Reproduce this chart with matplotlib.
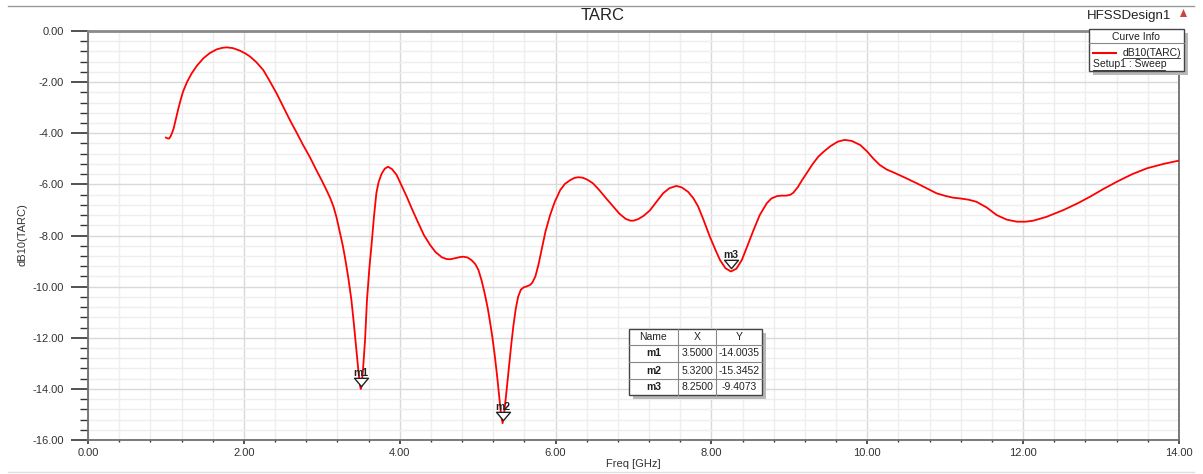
import matplotlib.pyplot as plt
from matplotlib.patches import Rectangle, Polygon
from matplotlib.lines import Line2D
from matplotlib.path import Path
from matplotlib.ticker import MultipleLocator, FormatStrFormatter
from matplotlib.transforms import offset_copy

plt.rcParams['font.family'] = ['Liberation Sans', 'DejaVu Sans']

# TARC sweep (GHz, dB)
freq = [1.00, 1.02, 1.04, 1.06, 1.08, 1.10, 1.13, 1.16, 1.19, 1.22, 1.27, 1.33,
        1.40, 1.48, 1.56, 1.65, 1.72, 1.78, 1.86, 1.95, 2.02, 2.08, 2.16, 2.25,
        2.33, 2.42, 2.50, 2.59, 2.68, 2.76, 2.85, 2.93, 3.00, 3.06, 3.11, 3.15,
        3.19, 3.23, 3.27, 3.30, 3.34, 3.38, 3.41, 3.44, 3.47, 3.49, 3.50, 3.51,
        3.53, 3.555, 3.58, 3.61, 3.64, 3.67, 3.70, 3.73, 3.77, 3.81, 3.85, 3.90,
        3.96, 4.02, 4.09, 4.16, 4.24, 4.31, 4.39, 4.46, 4.54, 4.60, 4.65, 4.72,
        4.78, 4.82, 4.87, 4.92, 4.97, 5.01, 5.05, 5.09, 5.13, 5.16, 5.19, 5.22,
        5.25, 5.28, 5.30, 5.32, 5.34, 5.37, 5.40, 5.43, 5.46, 5.49, 5.52, 5.555,
        5.59, 5.63, 5.67, 5.70, 5.74, 5.78, 5.82, 5.87, 5.93, 5.99, 6.06, 6.12,
        6.19, 6.24, 6.29, 6.35, 6.41, 6.48, 6.56, 6.65, 6.74, 6.82, 6.90, 6.96,
        7.00, 7.06, 7.13, 7.21, 7.29, 7.38, 7.46, 7.55, 7.62, 7.70, 7.77, 7.83,
        7.90, 7.98, 8.05, 8.11, 8.18, 8.25, 8.32, 8.39, 8.46, 8.54, 8.62, 8.71,
        8.77, 8.84, 8.90, 8.96, 9.01, 9.05, 9.11, 9.16, 9.22, 9.30, 9.37, 9.44,
        9.53, 9.62, 9.71, 9.80, 9.91, 10.00, 10.08, 10.16, 10.25, 10.35, 10.50,
        10.65, 10.78, 10.89, 11.00, 11.10, 11.19, 11.30, 11.40, 11.53, 11.66,
        11.79, 11.92, 12.03, 12.13, 12.30, 12.52, 12.70, 12.86, 13.03, 13.20,
        13.40, 13.59, 13.80, 14.00]
tarc = [-4.17, -4.20, -4.21, -4.12, -3.98, -3.80, -3.42, -3.03, -2.68, -2.37,
        -2.00, -1.66, -1.35, -1.07, -0.87, -0.72, -0.66, -0.64, -0.67, -0.77,
        -0.88, -1.00, -1.22, -1.53, -1.95, -2.44, -2.93, -3.48, -3.99, -4.46,
        -4.95, -5.44, -5.85, -6.22, -6.55, -6.87, -7.30, -7.85, -8.40, -8.90,
        -9.65, -10.52, -11.40, -12.35, -13.30, -13.85, -14.0035, -13.90, -13.20,
        -12.10, -10.52, -9.30, -8.31, -7.25, -6.35, -5.90, -5.57, -5.38, -5.31,
        -5.40, -5.63, -6.02, -6.48, -6.98, -7.52, -7.98, -8.37, -8.65, -8.85,
        -8.92, -8.93, -8.88, -8.84, -8.83, -8.86, -8.96, -9.12, -9.35, -9.75,
        -10.26, -10.85, -11.40, -12.00, -12.70, -13.50, -14.40, -15.00, -15.3452,
        -14.95, -14.10, -13.20, -12.30, -11.50, -10.85, -10.39, -10.12, -10.03,
        -9.99, -9.94, -9.85, -9.61, -9.15, -8.57, -7.85, -7.20, -6.68, -6.22,
        -5.98, -5.83, -5.75, -5.72, -5.74, -5.82, -5.96, -6.22, -6.55, -6.87,
        -7.15, -7.35, -7.42, -7.42, -7.36, -7.23, -7.02, -6.70, -6.35, -6.15,
        -6.06, -6.12, -6.29, -6.55, -6.87, -7.40, -8.05, -8.55, -8.96, -9.28,
        -9.4073, -9.30, -8.96, -8.42, -7.79, -7.20, -6.74, -6.55, -6.46, -6.44,
        -6.44, -6.41, -6.33, -6.10, -5.85, -5.57, -5.20, -4.92, -4.72, -4.50,
        -4.33, -4.26, -4.30, -4.46, -4.72, -5.00, -5.24, -5.42, -5.55, -5.76,
        -5.98, -6.18, -6.35, -6.45, -6.52, -6.55, -6.60, -6.68, -6.90, -7.20,
        -7.38, -7.46, -7.46, -7.42, -7.27, -7.00, -6.74, -6.48, -6.18, -5.90,
        -5.60, -5.37, -5.20, -5.07]

# markers
m_names = ['m1', 'm2', 'm3']
m_x = [3.5000, 5.3200, 8.2500]
m_y = [-14.0035, -15.3452, -9.4073]

W, H = 1203, 474
fig = plt.figure(figsize=(W / 100, H / 100), dpi=100)
ax = fig.add_axes([88 / W, 1 - 440 / H, (1179 - 88) / W, (440 - 31) / H])


def px(x, y):
    # pixel position (from top-left) -> figure fraction
    return x / W, 1 - y / H


ax.plot(freq, tarc, color='#ff0000', lw=1.3, zorder=3)

ax.set_xlim(0, 14)
ax.set_ylim(-16, 0)
ax.xaxis.set_major_locator(MultipleLocator(2))
ax.xaxis.set_minor_locator(MultipleLocator(0.4))
ax.yaxis.set_major_locator(MultipleLocator(2))
ax.yaxis.set_minor_locator(MultipleLocator(0.4))
ax.xaxis.set_major_formatter(FormatStrFormatter('%.2f'))
ax.yaxis.set_major_formatter(FormatStrFormatter('%.2f'))
ax.grid(which='major', color='#d9d9d9', lw=1.0, zorder=0)
ax.grid(which='minor', color='#eeeeee', lw=1.0, zorder=0)
ax.set_axisbelow(True)

for s in ax.spines.values():
    s.set_color('#6e6e6e')
    s.set_linewidth(1.3)
ax.spines['top'].set_color('#8a8a8a')
ax.spines['top'].set_linewidth(2)

ax.tick_params(axis='y', which='major', length=12, width=1.2, color='#333333',
               pad=5.5, labelsize=8, labelcolor='#333333')
ax.tick_params(axis='y', which='minor', length=6, width=1.0, color='#333333')
ax.tick_params(axis='x', which='major', length=3, width=1.2, color='#333333',
               pad=3, labelsize=8, labelcolor='#333333')
ax.tick_params(axis='x', which='minor', length=1.5, width=1.0, color='#333333')

fig.text(*px(633, 464), 'Freq [GHz]', ha='center', va='center', fontsize=8, color='#333333')
fig.text(*px(22, 235), 'dB10(TARC)', ha='center', va='center', fontsize=8,
         color='#333333', rotation=90)
fig.text(*px(603, 16), 'TARC', ha='center', va='center', fontsize=12, color='#222222')
fig.text(*px(1129, 16), 'HFSSDesign1', ha='center', va='center', fontsize=9.5, color='#222222')
fig.patches.append(Polygon([px(1180, 17), px(1187, 17), px(1183.5, 9)], closed=True,
                           transform=fig.transFigure, facecolor='#d04040', edgecolor='none'))

# outer window frame
fig.add_artist(Line2D([8 / W, 1194 / W], [1 - 6 / H, 1 - 6 / H], color='#9a9a9a', lw=1))
fig.add_artist(Line2D([8 / W, 1194 / W], [1 - 472 / H, 1 - 472 / H], color='#e0e0e0', lw=1))

# marker triangles and names (flat, pointing down, sitting just above the point)
flat_tri = Path([(-1, 0.6), (1, 0.6), (0, -0.6), (-1, 0.6)],
                [Path.MOVETO, Path.LINETO, Path.LINETO, Path.CLOSEPOLY])
tri = offset_copy(ax.transData, fig=fig, x=0, y=7, units='dots')
lab = offset_copy(ax.transData, fig=fig, x=0, y=11, units='dots')
for n, x, y in zip(m_names, m_x, m_y):
    ax.plot([x], [y], marker=flat_tri, ms=10, mfc='white', mec='#222222', mew=1.0,
            transform=tri, zorder=4)
    ax.text(x, y, n, transform=lab, ha='center', va='bottom', fontsize=7.5,
            fontweight='bold', color='#222222', zorder=5)


def box(x0, y0, x1, y1):
    # framed box with drop shadow
    sx0, sy0 = px(x0 + 4, y1 + 4)
    sx1, sy1 = px(x1 + 4, y0 + 4)
    fig.patches.append(Rectangle((sx0, sy0), sx1 - sx0, sy1 - sy0, transform=fig.transFigure,
                                 facecolor='#b8b8b8', edgecolor='none', zorder=5))
    bx0, by0 = px(x0, y1)
    bx1, by1 = px(x1, y0)
    fig.patches.append(Rectangle((bx0, by0), bx1 - bx0, by1 - by0, transform=fig.transFigure,
                                 facecolor='white', edgecolor='#444444', lw=1.0, zorder=6))


def hline(x0, x1, y, color='#888888', lw=0.8):
    fig.add_artist(Line2D([x0 / W, x1 / W], [1 - y / H, 1 - y / H], color=color, lw=lw, zorder=7))


def vline(x, y0, y1, color='#888888', lw=0.8):
    fig.add_artist(Line2D([x / W, x / W], [1 - y0 / H, 1 - y1 / H], color=color, lw=lw, zorder=7))


# curve info box
box(1089, 29, 1184, 71)
hline(1089, 1184, 43, color='#888888')
fig.text(*px(1136, 36.5), 'Curve Info', ha='center', va='center', fontsize=7.5,
         color='#222222', zorder=8)
fig.add_artist(Line2D([1093 / W, 1116 / W], [1 - 52.5 / H, 1 - 52.5 / H], color='#ff0000',
                      lw=1.5, zorder=8))
fig.text(*px(1123, 52.5), 'dB10(TARC)', ha='left', va='center', fontsize=7.5,
         color='#222222', zorder=8)
hline(1123, 1180, 58, color='#222222', lw=0.6)
fig.text(*px(1093, 64), 'Setup1 : Sweep', ha='left', va='center', fontsize=7.5,
         color='#222222', zorder=8)
hline(1093, 1165, 69.5, color='#222222', lw=0.6)

# marker table
box(629, 329, 762, 395)
cols = [629, 678, 716, 762]
rows = [329, 345, 362, 379, 395]
for c in cols[1:-1]:
    vline(c, 329, 395)
for r in rows[1:-1]:
    hline(629, 762, r)
for c0, c1, t in zip(cols[:-1], cols[1:], ['Name', 'X', 'Y']):
    fig.text(*px((c0 + c1) / 2, 337.5), t, ha='center', va='center', fontsize=7.5,
             color='#222222', zorder=8)
for i, (n, x, y) in enumerate(zip(m_names, m_x, m_y)):
    yc = (rows[i + 1] + rows[i + 2]) / 2
    fig.text(*px(653.5, yc), n, ha='center', va='center', fontsize=7.5,
             fontweight='bold', color='#222222', zorder=8)
    fig.text(*px(697, yc), f'{x:.4f}', ha='center', va='center', fontsize=7.5,
             color='#222222', zorder=8)
    fig.text(*px(739, yc), f'{y:.4f}', ha='center', va='center', fontsize=7.5,
             color='#222222', zorder=8)

fig.savefig('out.png', dpi=100)
